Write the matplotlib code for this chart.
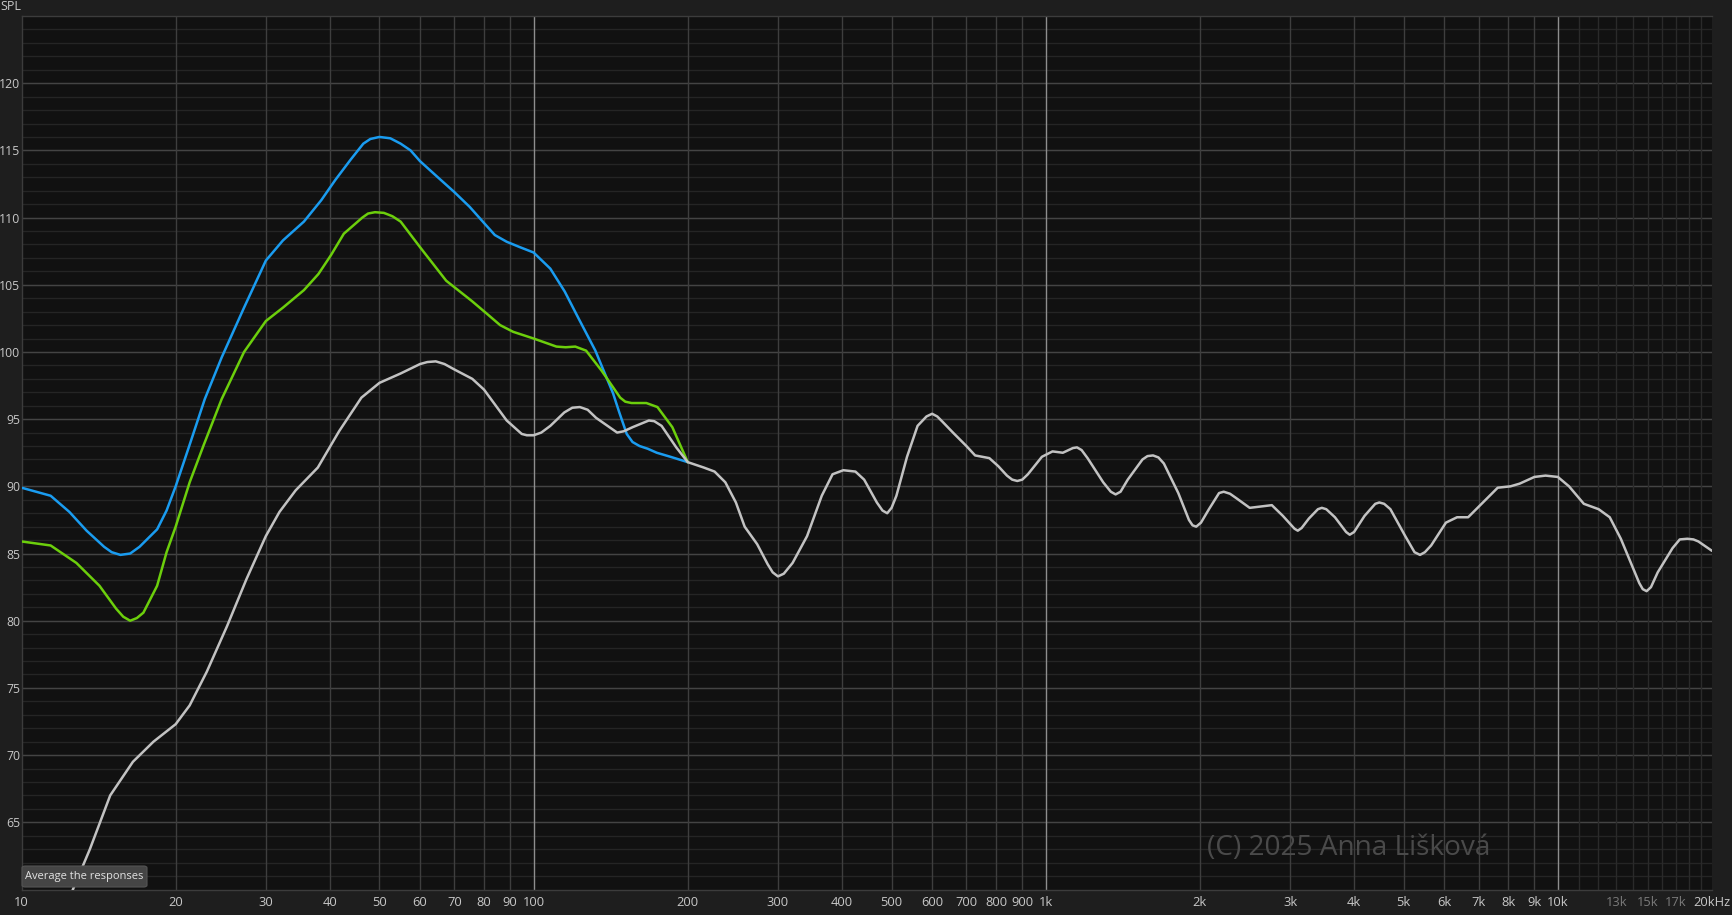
import matplotlib
matplotlib.use("Agg")
import matplotlib.pyplot as plt
from matplotlib.patches import FancyBboxPatch

# ---- data ----
blue_f = [10, 11.4, 12.4, 13.4, 14.5, 15.0, 15.6, 16.3, 17.0, 18.4, 19.2, 20, 21.3, 22.8, 24.6, 27.2, 30,
          32.4, 35.6, 38.5, 41.0, 43.9, 46.5, 48, 50, 52.5, 55, 57.5, 60, 65, 70, 75, 80, 84, 88.6, 94, 100,
          107.8, 115, 122, 132, 143, 147, 152, 156, 161, 167, 174, 185, 200]
blue_db = [89.9, 89.3, 88.1, 86.7, 85.5, 85.1, 84.9, 85.0, 85.5, 86.8, 88.2, 90.0, 93.1, 96.5, 99.6, 103.3, 106.8,
           108.3, 109.7, 111.3, 112.8, 114.3, 115.5, 115.85, 116.0, 115.9, 115.5, 115.0, 114.2, 113.0, 111.9, 110.8, 109.6, 108.7, 108.2, 107.8, 107.4,
           106.2, 104.5, 102.6, 100.1, 96.9, 95.5, 93.9, 93.3, 93.0, 92.8, 92.5, 92.2, 91.8]

green_f = [10, 11.4, 12.8, 14.2, 15.3, 15.8, 16.3, 16.8, 17.3, 18.4, 19.2, 20, 21.3, 22.7, 24.6, 27.2,
           30, 32.4, 35.6, 38.0, 40.2, 42.6, 46.3, 47.5, 49, 51, 53, 55, 60, 67.5, 75.7, 81.3, 86, 91.2, 100,
           110.8, 115.5, 120.6, 126.6, 135.8, 147.6, 151, 155.3, 160, 166, 174.5, 186.6, 200]
green_db = [85.9, 85.6, 84.3, 82.6, 80.9, 80.3, 80.0, 80.2, 80.6, 82.6, 85.1, 87.0, 90.3, 93.1, 96.5, 100.0,
            102.3, 103.3, 104.6, 105.8, 107.2, 108.8, 110.0, 110.3, 110.4, 110.35, 110.1, 109.7, 107.8, 105.3, 103.8, 102.8, 102.0, 101.5, 101.0,
            100.4, 100.35, 100.4, 100.1, 98.6, 96.6, 96.3, 96.2, 96.2, 96.2, 95.9, 94.4, 91.8]

gray_f = [12.4, 12.6, 13.6, 14.9, 16.5, 18.1, 20, 21.3, 23.0, 25.2, 27.5, 30, 31.9, 34.3, 37.9,
          41.7, 46.1, 50, 55, 60, 62, 64.4, 67, 70, 75.9, 80, 88.6, 94.8, 97, 100, 103.5, 107.8, 114.8, 119, 123.1,
          127.5, 132.4, 145.6, 150, 156, 167.9, 172, 177.8, 189.9, 200, 214.9, 225.6, 236.8, 248.3, 258.3,
          273.2, 286.5, 293, 300, 308, 320.4, 342, 365.3, 383.5, 402.5, 425, 442, 468, 480, 490.3, 500, 511,
          536, 562, 585, 600, 614, 629, 659, 700, 728, 776, 808, 840, 860, 880, 900, 923, 983, 1031, 1080,
          1130, 1151, 1175, 1207, 1295, 1340, 1369, 1400, 1446, 1545, 1580, 1620, 1660, 1701, 1815, 1904, 1935, 1967, 2010, 2083, 2180, 2226,
          2290, 2360, 2502, 2630, 2764, 2905, 3060, 3106, 3160, 3264, 3400, 3461, 3530, 3671, 3860, 3923, 4000, 4193, 4400, 4481, 4580, 4710,
          5035, 5250, 5381, 5500, 5657, 6046, 6356, 6681, 7141, 7632, 8081, 8421, 9000, 9461, 10000,
          10517, 11240, 12013, 12628, 13274, 13954, 14422, 14650, 14906, 15200, 15669, 16747, 17300, 17899,
          18400, 18810, 20000]
gray_db = [59.3, 60.0, 63.0, 67.0, 69.5, 71.0, 72.3, 73.7, 76.2, 79.6, 83.1, 86.3, 88.1, 89.7, 91.4,
           94.1, 96.6, 97.7, 98.4, 99.1, 99.25, 99.3, 99.1, 98.7, 98.0, 97.2, 94.9, 93.9, 93.8, 93.8, 94.0, 94.5, 95.5, 95.85, 95.9,
           95.7, 95.1, 94.0, 94.1, 94.4, 94.9, 94.85, 94.5, 92.9, 91.8, 91.4, 91.1, 90.3, 88.8, 87.0,
           85.7, 84.2, 83.6, 83.3, 83.5, 84.3, 86.3, 89.3, 90.9, 91.2, 91.1, 90.5, 88.8, 88.2, 88.0, 88.4, 89.3,
           92.2, 94.5, 95.2, 95.4, 95.2, 94.8, 94.0, 93.0, 92.3, 92.1, 91.5, 90.8, 90.5, 90.4, 90.5, 90.9, 92.2, 92.6, 92.5,
           92.85, 92.9, 92.7, 92.1, 90.3, 89.6, 89.4, 89.6, 90.5, 92.0, 92.25, 92.3, 92.15, 91.7, 89.5, 87.5, 87.1, 87.0, 87.3, 88.3, 89.5, 89.6,
           89.45, 89.1, 88.4, 88.5, 88.6, 87.8, 86.85, 86.7, 86.9, 87.6, 88.3, 88.4, 88.3, 87.7, 86.6, 86.4, 86.6, 87.8, 88.7, 88.8, 88.7, 88.3,
           86.3, 85.1, 84.9, 85.1, 85.6, 87.3, 87.7, 87.7, 88.8, 89.9, 90.0, 90.2, 90.7, 90.8, 90.7,
           90.0, 88.7, 88.3, 87.7, 86.1, 84.1, 82.8, 82.35, 82.2, 82.5, 83.6, 85.4, 86.05, 86.1,
           86.05, 85.9, 85.2]

x_ticks = [10, 20, 30, 40, 50, 60, 70, 80, 90, 100, 200, 300, 400, 500, 600, 700, 800, 900,
           1000, 2000, 3000, 4000, 5000, 6000, 7000, 8000, 9000, 10000, 13000, 15000, 17000, 20000]
x_labels = ["10", "20", "30", "40", "50", "60", "70", "80", "90", "100", "200", "300", "400",
            "500", "600", "700", "800", "900", "1k", "2k", "3k", "4k", "5k", "6k", "7k", "8k",
            "9k", "10k", "13k", "15k", "17k", "20kHz"]
dim_labels = ["13k", "15k", "17k"]
y_ticks = [65, 70, 75, 80, 85, 90, 95, 100, 105, 110, 115, 120]

# ---- styling ----
FIG_BG = "#1e1e1e"
AX_BG = "#111111"
TXT = "#c8c8c8"
plt.rcParams['font.family'] = ['Open Sans', 'DejaVu Sans']

W, H = 1732, 915
fig = plt.figure(figsize=(W / 100, H / 100), dpi=100, facecolor=FIG_BG)
L, R, T, B = 21.5, 1712, 16, 889.5
ax = fig.add_axes([L / W, 1 - B / H, (R - L) / W, (B - T) / H])
ax.set_facecolor(AX_BG)
ax.set_xscale("log")
ax.set_xlim(10, 20000)
ax.set_ylim(60, 125)

# grid lines
for v in range(61, 125):
    ax.axhline(v, color="#252525", lw=1.0, zorder=0.5)
for v in range(65, 125, 5):
    ax.axhline(v, color="#444444", lw=1.0, zorder=0.6)
for dec in [10, 100, 1000]:
    for m in range(2, 10):
        ax.axvline(dec * m, color="#3e3e3e", lw=1.0, zorder=0.6)
for m in range(11, 20):
    ax.axvline(1000 * m, color="#2a2a2a", lw=1.0, zorder=0.6)
for d in [100, 1000, 10000]:
    ax.axvline(d, color="#8e8e8e", lw=1.0, zorder=0.7)

for s in ax.spines.values():
    s.set_color("#3c3c3c")
    s.set_linewidth(1.0)
ax.spines["right"].set_visible(False)

# curves
kw = dict(lw=1.8, solid_joinstyle="round", solid_capstyle="round")
ax.plot(blue_f, blue_db, color="#1a9cf0", zorder=3, **kw)
ax.plot(green_f, green_db, color="#6ccf0c", zorder=3.1, **kw)
ax.plot(gray_f, gray_db, color="#c2c2c2", zorder=3.2, **kw)

# ticks
ax.set_xticks(x_ticks)
ax.set_xticklabels(x_labels)
ax.xaxis.set_minor_locator(matplotlib.ticker.NullLocator())
ax.set_yticks(y_ticks)
ax.set_yticklabels([str(v) for v in y_ticks])
ax.tick_params(axis="both", length=0, colors=TXT)
ax.tick_params(axis="x", pad=5, labelsize=9.3)
ax.tick_params(axis="y", pad=0.8, labelsize=8.8)
for lab in ax.get_xticklabels():
    if lab.get_text() in dim_labels:
        lab.set_color("#7a7a7a")

fig.text(0.5 / W, 1 - 6 / H, "SPL", color=TXT, fontsize=9.0, ha="left", va="center")

# watermark
ax.text(1207 / W, 1 - 848 / H, "(C) 2025 Anna Lišková", transform=fig.transFigure,
        color="#4a4a4a", fontsize=20.2, ha="left", va="center", zorder=4)

# "Average the responses" button
bx0, by0, bx1, by1 = 22, 866, 147, 887
box = FancyBboxPatch((bx0 / W, 1 - by1 / H), (bx1 - bx0) / W, (by1 - by0) / H,
                     boxstyle="round,pad=0,rounding_size=0.002", transform=fig.transFigure,
                     facecolor="#454545", edgecolor="#555555", lw=0.8, zorder=10)
fig.patches.append(box)
fig.text((bx0 + bx1) / 2 / W, 1 - (by0 + by1) / 2 / H, "Average the responses",
         color="#e2e2e2", fontsize=8.0, ha="center", va="center", zorder=11)

fig.savefig("out.png", dpi=100, facecolor=FIG_BG)
